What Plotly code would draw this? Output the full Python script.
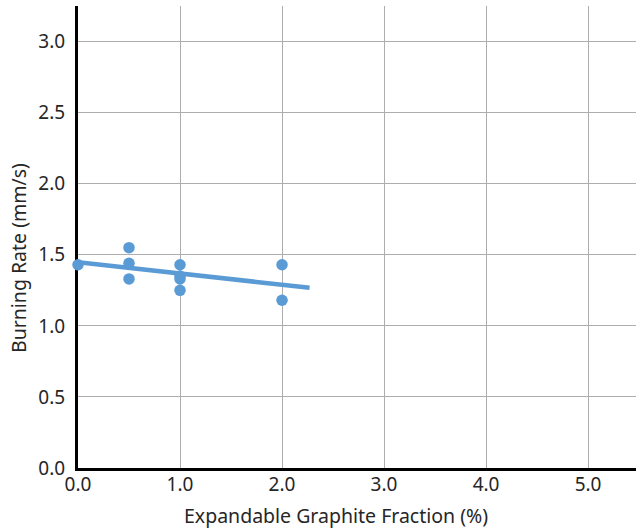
import numpy as np
import plotly.graph_objects as go

# Measured burning rates at each expandable graphite loading
graphite_pct = [0.0, 0.5, 0.5, 0.5, 1.0, 1.0, 1.0, 1.0, 2.0, 2.0]
burning_rate = [1.43, 1.55, 1.44, 1.33, 1.43, 1.35, 1.33, 1.25, 1.43, 1.18]

x_ticks = [0, 1, 2, 3, 4, 5]
y_ticks = [0, 0.5, 1.0, 1.5, 2.0, 2.5, 3.0]
trend_end = 2.27

# Least-squares linear trend line
slope, intercept = np.polyfit(graphite_pct, burning_rate, 1)
trend_x = np.array([0.0, trend_end])
trend_y = slope * trend_x + intercept

blue = "#5B9BD5"
font_family = "Noto Sans, Open Sans, sans-serif"

fig = go.Figure()
fig.add_trace(go.Scatter(
    x=trend_x, y=trend_y, mode="lines",
    line=dict(color=blue, width=4.5), hoverinfo="skip", showlegend=False,
    cliponaxis=False,
))
fig.add_trace(go.Scatter(
    x=graphite_pct, y=burning_rate, mode="markers",
    marker=dict(color=blue, size=11.5), showlegend=False,
    cliponaxis=False,
))

fig.update_layout(
    width=636, height=532,
    margin=dict(l=78, r=0, t=6, b=64),
    paper_bgcolor="white", plot_bgcolor="white",
    font=dict(family=font_family, size=19, color="#262626"),
    xaxis=dict(
        range=[0, 5.47], tickvals=x_ticks,
        ticktext=[f"{v:.1f}" for v in x_ticks],
        showgrid=True, gridcolor="#adadad", gridwidth=1,
        zeroline=False, showline=True, linecolor="black", linewidth=3,
        ticks="", ticklabelstandoff=-3, layer="below traces",
    ),
    yaxis=dict(
        range=[0, 3.25], tickvals=y_ticks,
        ticktext=[f"{v:.1f}" for v in y_ticks],
        showgrid=True, gridcolor="#adadad", gridwidth=1,
        zeroline=False, showline=True, linecolor="black", linewidth=3,
        ticks="", ticklabelstandoff=6, layer="below traces",
    ),
    annotations=[
        dict(text="Expandable Graphite Fraction (%)", xref="paper", yref="paper",
             x=(336 - 78) / 558, y=-(515 - 468) / 462, showarrow=False,
             xanchor="center", yanchor="middle", font=dict(size=19.5)),
        dict(text="Burning Rate (mm/s)", xref="paper", yref="paper",
             x=-(78 - 18) / 558, y=(468 - 258) / 462, showarrow=False,
             textangle=-90, xanchor="center", yanchor="middle", font=dict(size=19.5)),
    ],
)

fig.write_html("out.html")
